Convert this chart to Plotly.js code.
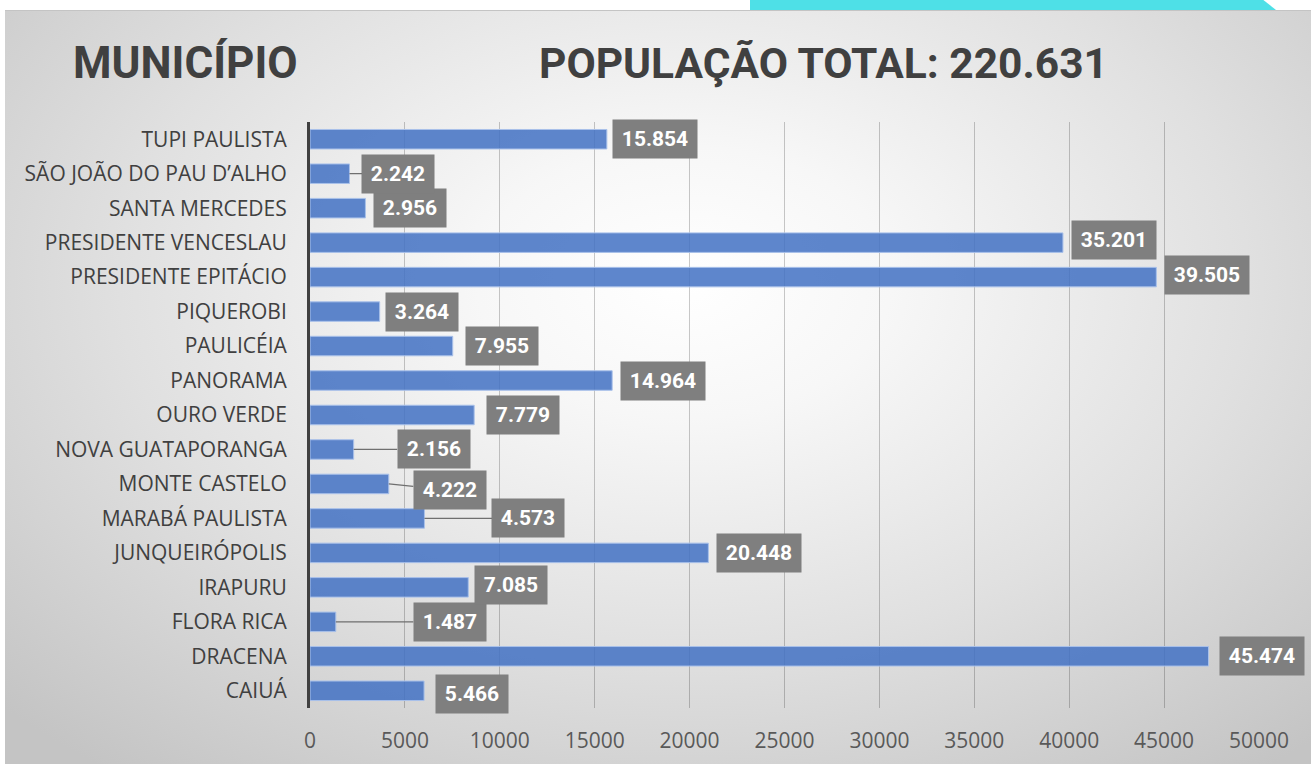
<!DOCTYPE html>
<html>
<head>
<meta charset="utf-8">
<script src="https://cdn.plot.ly/plotly-3.0.1.min.js"></script>
<style>
  html, body { margin: 0; padding: 0; background: #ffffff; width: 1311px; height: 764px; overflow: hidden; }
  #panel { position: absolute; left: 5px; top: 10px; width: 1306px; height: 754px;
    background: radial-gradient(ellipse 72% 82% at 52% 36%, #ffffff 0%, #f7f7f7 22%, #e0e0e0 60%, #c4c4c4 100%);
    border-top: 1px solid #c4c4c4; box-sizing: border-box; }
  #accent { position: absolute; left: 750px; top: 0; width: 526px; height: 10px; background: #4ee0e7;
    clip-path: polygon(0 0, 97.6% 0, 100% 100%, 0 100%); }
  #chart { position: absolute; left: 0; top: 0; width: 1311px; height: 764px; }
</style>
</head>
<body>
<div id="panel"></div>
<div id="accent"></div>
<div id="chart"></div>
<script>
// Categories, bottom to top as drawn
const municipios = [
  "CAIUÁ", "DRACENA", "FLORA RICA", "IRAPURU", "JUNQUEIRÓPOLIS",
  "MARABÁ PAULISTA", "MONTE CASTELO", "NOVA GUATAPORANGA", "OURO VERDE",
  "PANORAMA", "PAULICÉIA", "PIQUEROBI", "PRESIDENTE EPITÁCIO",
  "PRESIDENTE VENCESLAU", "SANTA MERCEDES", "SÃO JOÃO DO PAU D’ALHO", "TUPI PAULISTA"
];
// Bar lengths as drawn in the picture
const barras = [
  6010, 47340, 1360, 8340, 20990,
  6030, 4150, 2300, 8650,
  15920, 7520, 3670, 44590,
  39670, 2920, 2080, 15640
];
// Data label texts as printed in the picture
const rotulos = [
  "5.466", "45.474", "1.487", "7.085", "20.448",
  "4.573", "4.222", "2.156", "7.779",
  "14.964", "7.955", "3.264", "39.505",
  "35.201", "2.956", "2.242", "15.854"
];
const tituloEsq = "MUNICÍPIO";
const tituloDir = "POPULAÇÃO TOTAL: 220.631";
const xTicks = [0, 5000, 10000, 15000, 20000, 25000, 30000, 35000, 40000, 45000, 50000];

// label placement (pixels): gap from bar end (or leader length), shift downward, leader-line flag
const lblDx  = [11, 10, 114, 6, 8, 104, 61, 80, 12, 8, 12, 5, 8, 8, 8, 49, 5];
const lblDy  = [3, 0, 0, -2, 0, 0, 6, 0, 0, 0, 0, 0, -2, -3, 0, 0, 0];
const leader = [0, 0, 1, 0, 0, 1, 1, 1, 0, 0, 0, 0, 0, 0, 0, 1, 0];

const annotations = municipios.map((m, i) => {
  const w = 12 * rotulos[i].length + 12;
  const base = {
    x: barras[i], y: m, xref: 'x', yref: 'y',
    text: rotulos[i],
    font: { family: 'Roboto, Open Sans, sans-serif', size: 21, color: '#ffffff', weight: 'bold' },
    bgcolor: '#7f7f7f', width: w, height: 38, borderpad: 0, align: 'center', valign: 'middle'
  };
  if (leader[i]) {
    return Object.assign(base, {
      showarrow: true, arrowhead: 0, arrowwidth: 1.2, arrowcolor: '#6f6f6f',
      ax: lblDx[i], ay: lblDy[i], standoff: 0, startstandoff: 0
    });
  }
  return Object.assign(base, {
    showarrow: false, xanchor: 'left', yanchor: 'middle', xshift: lblDx[i], yshift: -lblDy[i]
  });
});

annotations.push({
  xref: 'paper', yref: 'paper', x: -0.252, y: 1.1, xanchor: 'left', yanchor: 'middle',
  text: tituloEsq, showarrow: false,
  font: { family: 'Roboto, sans-serif', size: 44, color: '#404040', weight: 'bold' }
});
annotations.push({
  xref: 'paper', yref: 'paper', x: 0.2395, y: 1.1, xanchor: 'left', yanchor: 'middle',
  text: tituloDir, showarrow: false,
  font: { family: 'Roboto, sans-serif', size: 42.5, color: '#404040', weight: 'bold' }
});

const trace = {
  type: 'bar', orientation: 'h',
  x: barras, y: municipios,
  marker: { color: 'rgba(68,114,196,0.86)', line: { color: '#a9c1ea', width: 1 } },
  hoverinfo: 'x+y'
};

const layout = {
  width: 1311, height: 764,
  paper_bgcolor: 'rgba(0,0,0,0)', plot_bgcolor: 'rgba(0,0,0,0)',
  margin: { l: 309.5, r: 51.5, t: 122, b: 56 },
  showlegend: false,
  bargap: 0.434,
  xaxis: {
    range: [0, 50000], autorange: false, tickvals: xTicks, ticktext: xTicks.map(String),
    showgrid: true, gridcolor: 'rgba(0,0,0,0.21)', gridwidth: 1,
    zeroline: false, showline: false,
    ticks: 'outside', ticklen: 14, tickcolor: 'rgba(0,0,0,0)',
    tickfont: { family: 'Open Sans, sans-serif', size: 21, color: '#595959' },
    fixedrange: true
  },
  yaxis: {
    type: 'category', categoryorder: 'array', categoryarray: municipios,
    range: [-0.5, municipios.length - 0.5], autorange: false,
    showgrid: false, zeroline: false,
    showline: true, linecolor: '#404040', linewidth: 3,
    ticks: 'outside', ticklen: 16, tickcolor: 'rgba(0,0,0,0)',
    tickfont: { family: 'Open Sans, sans-serif', size: 21, color: '#404040' },
    fixedrange: true
  },
  annotations: annotations
};

Plotly.newPlot('chart', [trace], layout, { displayModeBar: false, staticPlot: true });
</script>
</body>
</html>
